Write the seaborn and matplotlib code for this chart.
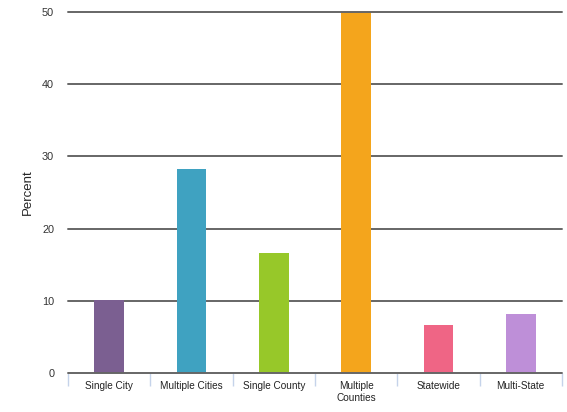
import numpy as np
import pandas as pd
import seaborn as sns
from matplotlib import pyplot as plt

categories = ["Single City", "Multiple Cities", "Single County", "Multiple\nCounties", "Statewide", "Multi-State"]
percent = [10.1, 28.2, 16.6, 50.0, 6.6, 8.2]
colors = ["#7B5F91", "#3FA2C1", "#97C829", "#F4A51C", "#EF6585", "#BE8FD8"]
yticks = [0, 10, 20, 30, 40, 50]

df = pd.DataFrame({"category": categories, "percent": percent})

sns.set_style("white")
plt.rcParams['font.family'] = ['Liberation Sans', 'DejaVu Sans']

fig = plt.figure(figsize=(5.67, 4.12), dpi=100)
ax = fig.add_axes([0.12, 0.0947, 0.871, 0.876])

sns.barplot(data=df, x="category", y="percent", hue="category", palette=colors,
            width=0.36, legend=False, ax=ax, saturation=1, linewidth=0, zorder=2)

ax.set_ylim(0, 50)
ax.set_xlim(-0.5, len(categories) - 0.5)
ax.set_yticks(yticks)
for y in yticks:
    ax.axhline(y, color="#666666", lw=1.4, zorder=3 if y in (0, 50) else 1, clip_on=False)
for s in ax.spines.values():
    s.set_visible(False)

ax.tick_params(axis="y", length=0, labelsize=7.8, pad=10, labelcolor="#333333")
ax.tick_params(axis="x", which="major", length=0, labelsize=7.2, pad=6, labelcolor="#222222")
ax.set_xticks(np.arange(len(categories) + 1) - 0.5, minor=True)
ax.tick_params(axis="x", which="minor", bottom=True, length=9, color="#c5d3ea", width=1)
ax.set_xlabel("")
ax.set_ylabel("Percent", fontsize=9.5, labelpad=6)

fig.savefig("out.png", dpi=100)
